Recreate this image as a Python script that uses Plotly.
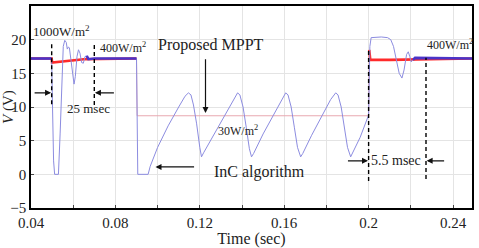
import plotly.graph_objects as go

# ---------------- data ----------------
# InC algorithm (blue)
inc_t = [0.040, 0.0498, 0.0502, 0.0507, 0.0512, 0.0530, 0.0538, 0.0546, 0.0553, 0.0560,
         0.0567, 0.0572, 0.0577, 0.0582, 0.0590, 0.0598, 0.0604, 0.0610, 0.0618, 0.0625,
         0.0632, 0.0640, 0.0648, 0.0656, 0.0664, 0.0672, 0.0700, 0.0900, 0.0903, 0.0906,
         0.0955, 0.0965, 0.100, 0.105, 0.110, 0.113, 0.1146, 0.1158, 0.117, 0.1185,
         0.120, 0.1208, 0.1218, 0.125, 0.130, 0.135, 0.137, 0.1379, 0.139, 0.1405,
         0.142, 0.1435, 0.1445, 0.1455, 0.150, 0.155, 0.159, 0.1607, 0.1618, 0.1633,
         0.1648, 0.1663, 0.1678, 0.1688, 0.173, 0.178, 0.182, 0.1844, 0.1855, 0.187,
         0.1885, 0.190, 0.1915, 0.1925, 0.196, 0.200, 0.2002, 0.2006, 0.2012, 0.2060,
         0.2090, 0.2105, 0.2118, 0.2130, 0.2145, 0.2158, 0.2168, 0.2180, 0.2188, 0.2195,
         0.2202, 0.2210, 0.2220, 0.249]
inc_v = [17.2, 17.2, 10.0, 2.0, 0.0, 0.0, 6.0, 14.0, 19.0, 19.9,
         19.6, 18.6, 18.9, 18.8, 17.0, 14.5, 13.4, 14.5, 17.5, 18.5,
         18.0, 16.6, 16.5, 17.5, 17.6, 17.1, 17.2, 17.2, 10.0, 0.0,
         0.0, 1.2, 4.0, 7.2, 10.0, 11.6, 12.1, 11.8, 10.3, 7.5,
         4.0, 2.6, 3.2, 5.0, 7.8, 10.6, 11.8, 12.1, 11.8, 10.0,
         7.0, 3.8, 2.6, 3.1, 6.0, 8.9, 11.3, 12.1, 11.8, 10.0,
         7.0, 4.0, 2.6, 3.1, 5.8, 8.7, 11.1, 12.1, 11.8, 10.0,
         7.0, 4.0, 2.6, 3.2, 5.5, 8.8, 14.0, 19.0, 20.3, 20.4,
         20.3, 20.0, 19.0, 17.0, 15.0, 14.3, 15.5, 17.8, 18.2, 17.5,
         16.7, 17.0, 17.3, 17.2]

# Proposed MPPT (red), three irradiance segments
mppt1_t = [0.040, 0.0498, 0.0500, 0.055, 0.060, 0.065, 0.0900]
mppt1_v = [17.2, 17.2, 16.6, 16.8, 16.9, 17.1, 17.2]
mppt2_t = [0.0900, 0.0903, 0.2000, 0.2003]
mppt2_v = [17.2, 8.7, 8.7, 18.5]
mppt3_t = [0.2003, 0.2008, 0.210, 0.249]
mppt3_v = [18.5, 17.0, 17.0, 17.2]

# steady-state windows (where both curves overlap)
steady_windows = [(0.040, 0.0498), (0.0664, 0.0900), (0.2210, 0.249)]

# event markers (dashed lines): time, v_top, v_bottom
event_t = [0.0498, 0.0700, 0.2000, 0.2272]
event_top = [19.7, 19.5, 18.5, 17.3]
event_bot = [10.4, 10.3, -1.0, -0.7]

x_ticks = [0.04, 0.08, 0.12, 0.16, 0.2, 0.24]
x_ticktext = ["0.04", "0.08", "0.12", "0.16", "0.2", "0.24"]
y_ticks = [-5, 0, 5, 10, 15, 20, 25]

FONT = "Liberation Serif"

fig = go.Figure()

fig.add_trace(go.Scatter(x=mppt1_t, y=mppt1_v, mode="lines",
                         line=dict(color="#ff2a2a", width=2.6), showlegend=False))
fig.add_trace(go.Scatter(x=mppt2_t, y=mppt2_v, mode="lines",
                         line=dict(color="#e8a8b0", width=1), showlegend=False))
fig.add_trace(go.Scatter(x=mppt3_t, y=mppt3_v, mode="lines",
                         line=dict(color="#ff2a2a", width=2.6), showlegend=False))

fig.add_trace(go.Scatter(x=inc_t, y=inc_v, mode="lines",
                         line=dict(color="#8c8ce0", width=1), showlegend=False))

for (a, b) in steady_windows:
    xs = [t for t in inc_t if a <= t <= b]
    ys = [v for t, v in zip(inc_t, inc_v) if a <= t <= b]
    fig.add_trace(go.Scatter(x=xs, y=ys, mode="lines",
                             line=dict(color="#4a34c8", width=2.6), showlegend=False))

for t, top, bot in zip(event_t, event_top, event_bot):
    fig.add_shape(type="line", x0=t, x1=t, y0=bot, y1=top, xref="x", yref="y",
                  line=dict(color="black", width=1.4, dash="4px,3px"))

ann = []
def txt(x, y, s, size=11, **kw):
    ann.append(dict(x=x, y=y, text=s, showarrow=False, xref="x", yref="y",
                    font=dict(family=FONT, size=size, color="#222"), **kw))

def arrow(x0, y0, x1, y1):
    ann.append(dict(x=x1, y=y1, ax=x0, ay=y0, xref="x", yref="y", axref="x", ayref="y",
                    text="", showarrow=True, arrowhead=2, arrowsize=1, arrowwidth=1.2,
                    arrowcolor="#111"))

txt(0.0545, 21.3, "1000W/m<sup>2</sup>", size=13)
txt(0.0835, 18.9, "400W/m<sup>2</sup>", size=12)
txt(0.0672, 9.8, "25 msec", size=13)
txt(0.1255, 19.2, "Proposed MPPT", size=16)
txt(0.1380, 6.5, "30W/m<sup>2</sup>", size=12)
txt(0.1485, 0.4, "InC algorithm", size=16)
txt(0.2130, 2.0, "5.5 msec", size=14)
txt(0.2385, 19.3, "400W/m<sup>2</sup>", size=12)

arrow(0.0410, 12.1, 0.0495, 12.1)
arrow(0.0800, 12.1, 0.0703, 12.1)
arrow(0.1227, 17.3, 0.1227, 9.1)
arrow(0.1180, 1.1, 0.0990, 1.1)
arrow(0.1895, 2.0, 0.1997, 2.0)
arrow(0.2365, 2.0, 0.2275, 2.0)

fig.update_layout(
    width=479, height=248,
    margin=dict(l=31, r=7, t=6, b=40),
    paper_bgcolor="white", plot_bgcolor="white",
    annotations=ann,
    font=dict(family=FONT, size=15, color="#222"),
    xaxis=dict(range=[0.04, 0.249], tickvals=x_ticks, ticktext=x_ticktext,
               automargin=False,
               showgrid=True, gridcolor="#e4e4e4", ticks="inside", ticklen=3,
               minor=dict(dtick=0.02, tick0=0.04, showgrid=True, gridcolor="#e4e4e4",
                          ticks="inside", ticklen=3),
               showline=True, linecolor="black", linewidth=1.5, mirror=True,
               zeroline=False, tickfont=dict(family=FONT, size=15),
               title=dict(text="Time (sec)", font=dict(family=FONT, size=16), standoff=0)),
    yaxis=dict(range=[-5, 25], tickvals=y_ticks, automargin=False,
               showgrid=True, gridcolor="#e4e4e4", ticks="inside", ticklen=3,
               showline=True, linecolor="black", linewidth=1.5, mirror=True,
               zeroline=False, tickfont=dict(family=FONT, size=15),
               title=dict(text="<i>V</i> (V)", font=dict(family=FONT, size=15), standoff=0)),
)

fig.write_html("out.html")
